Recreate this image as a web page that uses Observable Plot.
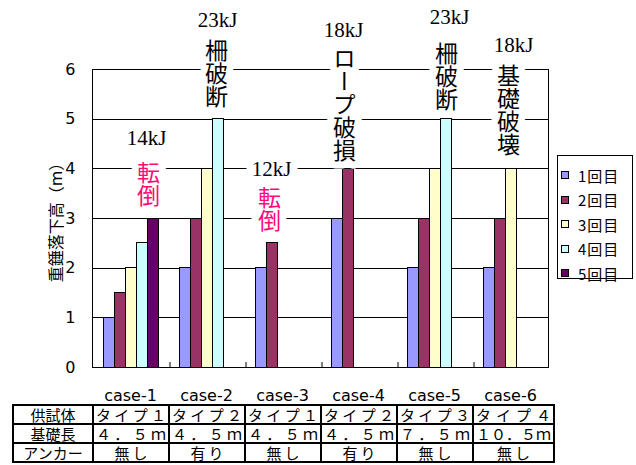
<!DOCTYPE html>
<html>
<head>
<meta charset="utf-8">
<script src="https://cdn.jsdelivr.net/npm/d3@7"></script>
<script src="https://cdn.jsdelivr.net/npm/@observablehq/plot@0.6"></script>
<style>
  body { margin: 0; background: #fff; }
  #wrap { position: relative; width: 636px; height: 465px; overflow: hidden; background: #fff; }
  #chart { position: absolute; left: 0; top: 0; }
  #legend { position: absolute; left: 557px; top: 155px; width: 76px; height: 124px; border: 1px solid #000;
            box-sizing: border-box; background: #fff; font-family: "Noto Sans CJK JP", sans-serif; font-size: 15px; }
  #legend .item { position: absolute; left: 3px; height: 24.5px; display: flex; align-items: center; white-space: nowrap; }
  #legend .sw { width: 6px; height: 6px; border: 1px solid #000; display: inline-block; }
  #legend .lb { margin-left: 9px; letter-spacing: 1px; line-height: 1; }
  #tbl { position: absolute; left: 12px; top: 404px; border-collapse: collapse; table-layout: fixed;
         font-family: "Noto Sans CJK JP", sans-serif; font-size: 15px; color: #000; }
  #tbl td { border: 2px solid #000; padding: 0; height: 17px; line-height: 17px; white-space: nowrap; overflow: hidden; text-align: center; }
  #tbl td.dist { text-align: justify; text-align-last: justify; padding: 0 2px; }
  #tbl td.ctr { letter-spacing: 3px; text-indent: 3px; }
</style>
</head>
<body>
<div id="wrap"><div id="chart"></div></div>
<script>
// ---- data ----
const cases = ["case-1", "case-2", "case-3", "case-4", "case-5", "case-6"];
const series = ["1回目", "2回目", "3回目", "4回目", "5回目"];
const run1 = [1, 2, 2, 3, 2, 2];
const run2 = [1.5, 3, 2.5, 4, 3, 3];
const run3 = [2, 4, null, null, 4, 4];
const run4 = [2.5, 5, null, null, 5, null];
const run5 = [3, null, null, null, null, null];
const yTicks = [0, 1, 2, 3, 4, 5, 6];
const yLabel = "重錘落下高（m）";
const energy = ["14kJ", "23kJ", "12kJ", "18kJ", "23kJ", "18kJ"];
const failure = ["転倒", "柵破断", "転倒", "ロープ破損", "柵破断", "基礎破壊"];
const rowHeads = ["供試体", "基礎長", "アンカー"];
const specimen = ["タイプ１", "タイプ２", "タイプ１", "タイプ２", "タイプ３", "タイプ４"];
const footing = ["４．５ｍ", "４．５ｍ", "４．５ｍ", "４．５ｍ", "７．５ｍ", "１０．５ｍ"];
const anchorRow = ["無し", "有り", "無し", "有り", "無し", "無し"];

// ---- styles / layout ----
const barColors = ["#9999ff", "#993366", "#ffffcc", "#ccffff", "#660066"];
const pink = "#ff0a78";
const energyY = [4.61, 6.99, 4.0, 6.78, 7.05, 6.48];
const energyDx = [16, 11, -11, -15, 15, 3];
const failY = [4.16, 6.61, 3.65, 6.45, 6.55, 6.11];
const failDx = [18, 10, -13, -14, 12, -2];

const runs = [run1, run2, run3, run4, run5];
const rows = [];
cases.forEach((c, ci) => series.forEach((s, si) => {
  const v = runs[si][ci];
  if (v != null) rows.push({case: c, series: s, value: v});
}));

const W = 636, mL = 92, mR = 88, mT = 69, H = 404, mB = H - 367;
const padOuter = 0.8;
const facetW = (W - mL - mR) / cases.length;
const step = facetW / (series.length + 2 * padOuter);

const marks = [
  Plot.gridY({ticks: yTicks.slice(1), stroke: "#000", strokeOpacity: 1, shapeRendering: "crispEdges"}),
  Plot.frame({facet: "super", stroke: "#000", shapeRendering: "crispEdges"}),
  Plot.ruleX(cases.slice(1), {fx: d => d, x: () => series[0], dx: -step * (padOuter + 0.5), y1: 0, y2: 0.1, stroke: "#000"}),
  Plot.barY(rows, {fx: "case", x: "series", y: "value", fill: "series", stroke: "#000", strokeWidth: 1, shapeRendering: "crispEdges"}),
  Plot.axisY({ticks: yTicks, tickFormat: d3.format("d"), tickSize: 0, tickPadding: 17, fontSize: 16, label: yLabel, labelAnchor: "center", labelOffset: 42, labelArrow: "none"}),
  Plot.axisFx({anchor: "bottom", tickSize: 0, tickPadding: 22, fontSize: 16, label: null})
];
cases.forEach((c, i) => {
  marks.push(Plot.text([i], {
    fx: d => cases[d], y: d => energyY[d], text: d => energy[d], dx: energyDx[i],
    fontFamily: "Liberation Serif, serif", fontSize: 21, fill: "#000",
    stroke: "#fff", strokeWidth: 16, strokeLinejoin: "round", paintOrder: "stroke", lineAnchor: "middle"
  }));
  marks.push(Plot.text([i], {
    fx: d => cases[d], y: d => failY[d], text: d => failure[d], dx: failDx[i],
    fontFamily: "Noto Sans CJK JP", fontSize: 23, fill: failure[i] === "転倒" ? pink : "#000",
    stroke: "#fff", strokeWidth: 14, strokeLinejoin: "round", paintOrder: "stroke",
    textAnchor: "start", lineAnchor: "top", ariaDescription: "vertical"
  }));
});

const plot = Plot.plot({
  width: W, height: H,
  marginLeft: mL, marginRight: mR, marginTop: mT, marginBottom: mB,
  style: {fontFamily: "'DejaVu Sans', 'Noto Sans CJK JP', sans-serif", fontSize: "16px", color: "#000", background: "#fff"},
  fx: {domain: cases, padding: 0, label: null},
  x: {domain: series, paddingInner: 0, paddingOuter: padOuter, axis: null},
  y: {domain: [0, 6], axis: null},
  color: {domain: series, range: barColors},
  marks
});

d3.select(plot).selectAll('g[aria-description="vertical"] text').each(function() {
  const t = d3.select(this);
  if (String(t.attr("y") || "").endsWith("em")) t.attr("y", null);
  if (String(t.attr("dy") || "").endsWith("em")) t.attr("dy", null);
  t.attr("text-anchor", "start")
   .style("writing-mode", "vertical-rl")
   .style("text-orientation", "upright");
});

document.getElementById("chart").appendChild(plot);

// ---- legend ----
const color = plot.scale("color");
const legend = d3.select("#wrap").append("div").attr("id", "legend");
series.forEach((s, i) => {
  const it = legend.append("div").attr("class", "item").style("top", (6.75 + i * 24.5) + "px");
  it.append("span").attr("class", "sw").style("background", color.range[i]);
  it.append("span").attr("class", "lb").text(s);
});

// ---- table ----
const tbl = d3.select("#wrap").append("table").attr("id", "tbl");
const cg = tbl.append("colgroup");
cg.append("col").style("width", "80px");
cases.forEach(() => cg.append("col").style("width", facetW + "px"));
const tableRows = [specimen, footing, anchorRow];
tableRows.forEach((vals, r) => {
  const tr = tbl.append("tr");
  tr.append("td").text(rowHeads[r]);
  vals.forEach(v => tr.append("td").attr("class", r < 2 ? "dist" : "ctr").text(v));
});
tbl.selectAll("td").each(function() {
  let fs = 15;
  while (this.scrollWidth > this.clientWidth && fs > 9) { fs -= 0.5; this.style.fontSize = fs + "px"; }
});
</script>
</body>
</html>
